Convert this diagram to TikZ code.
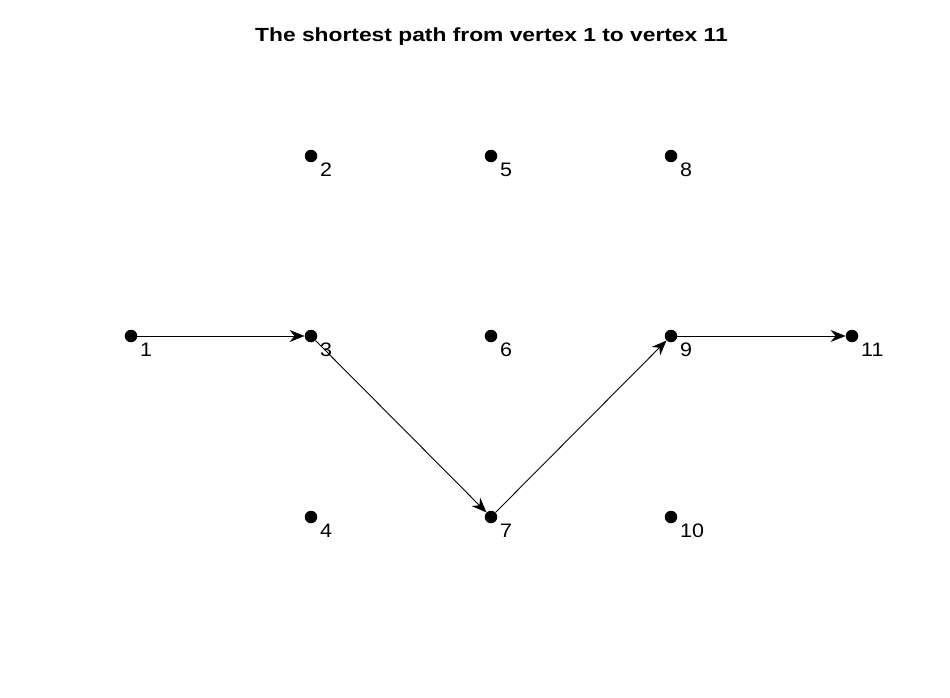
\documentclass[tikz,border=0pt]{standalone}
\usepackage{fontspec}
\setmainfont{Liberation Sans}
\newfontfamily\labelfont[FakeStretch=1.1]{Liberation Sans}
\newfontfamily\titlefont[FakeStretch=1.2]{Liberation Sans}
\usetikzlibrary{arrows.meta}
\begin{document}
\begin{tikzpicture}[x=1pt,y=-1pt,
  vtx/.style={circle,fill=black,inner sep=0pt,minimum size=12.5pt},
  vlabel/.style={anchor=base west,inner sep=0pt,font=\labelfont\fontsize{19.5}{19.5}\selectfont},
  pathedge/.style={line width=0.9pt,-{Stealth[length=15pt,width=12pt,inset=5pt,line width=0.9pt]}}]
\useasboundingbox (0,0) rectangle (950,698);
\fill[white] (0,0) rectangle (950,698);
\node[anchor=base,inner sep=0pt,font=\titlefont\bfseries\fontsize{19}{19}\selectfont] (title) at (491.5,42) {The shortest path from vertex 1 to vertex 11};
\foreach \n/\x/\y in {1/131/336,2/311/156,3/311/336,4/311/517,5/491/156,6/491/336,7/491/517,8/671/156,9/671/336,10/671/517,11/852/336}{
  \node[vtx] (v\n) at (\x,\y) {};
  \node[vlabel] (l\n) at (\x+9,\y+20) {\n};
}
\draw[pathedge] (v1) -- (v3);
\draw[pathedge] (v3) -- (v7);
\draw[pathedge] (v7) -- (v9);
\draw[pathedge] (v9) -- (v11);
\end{tikzpicture}
\end{document}
